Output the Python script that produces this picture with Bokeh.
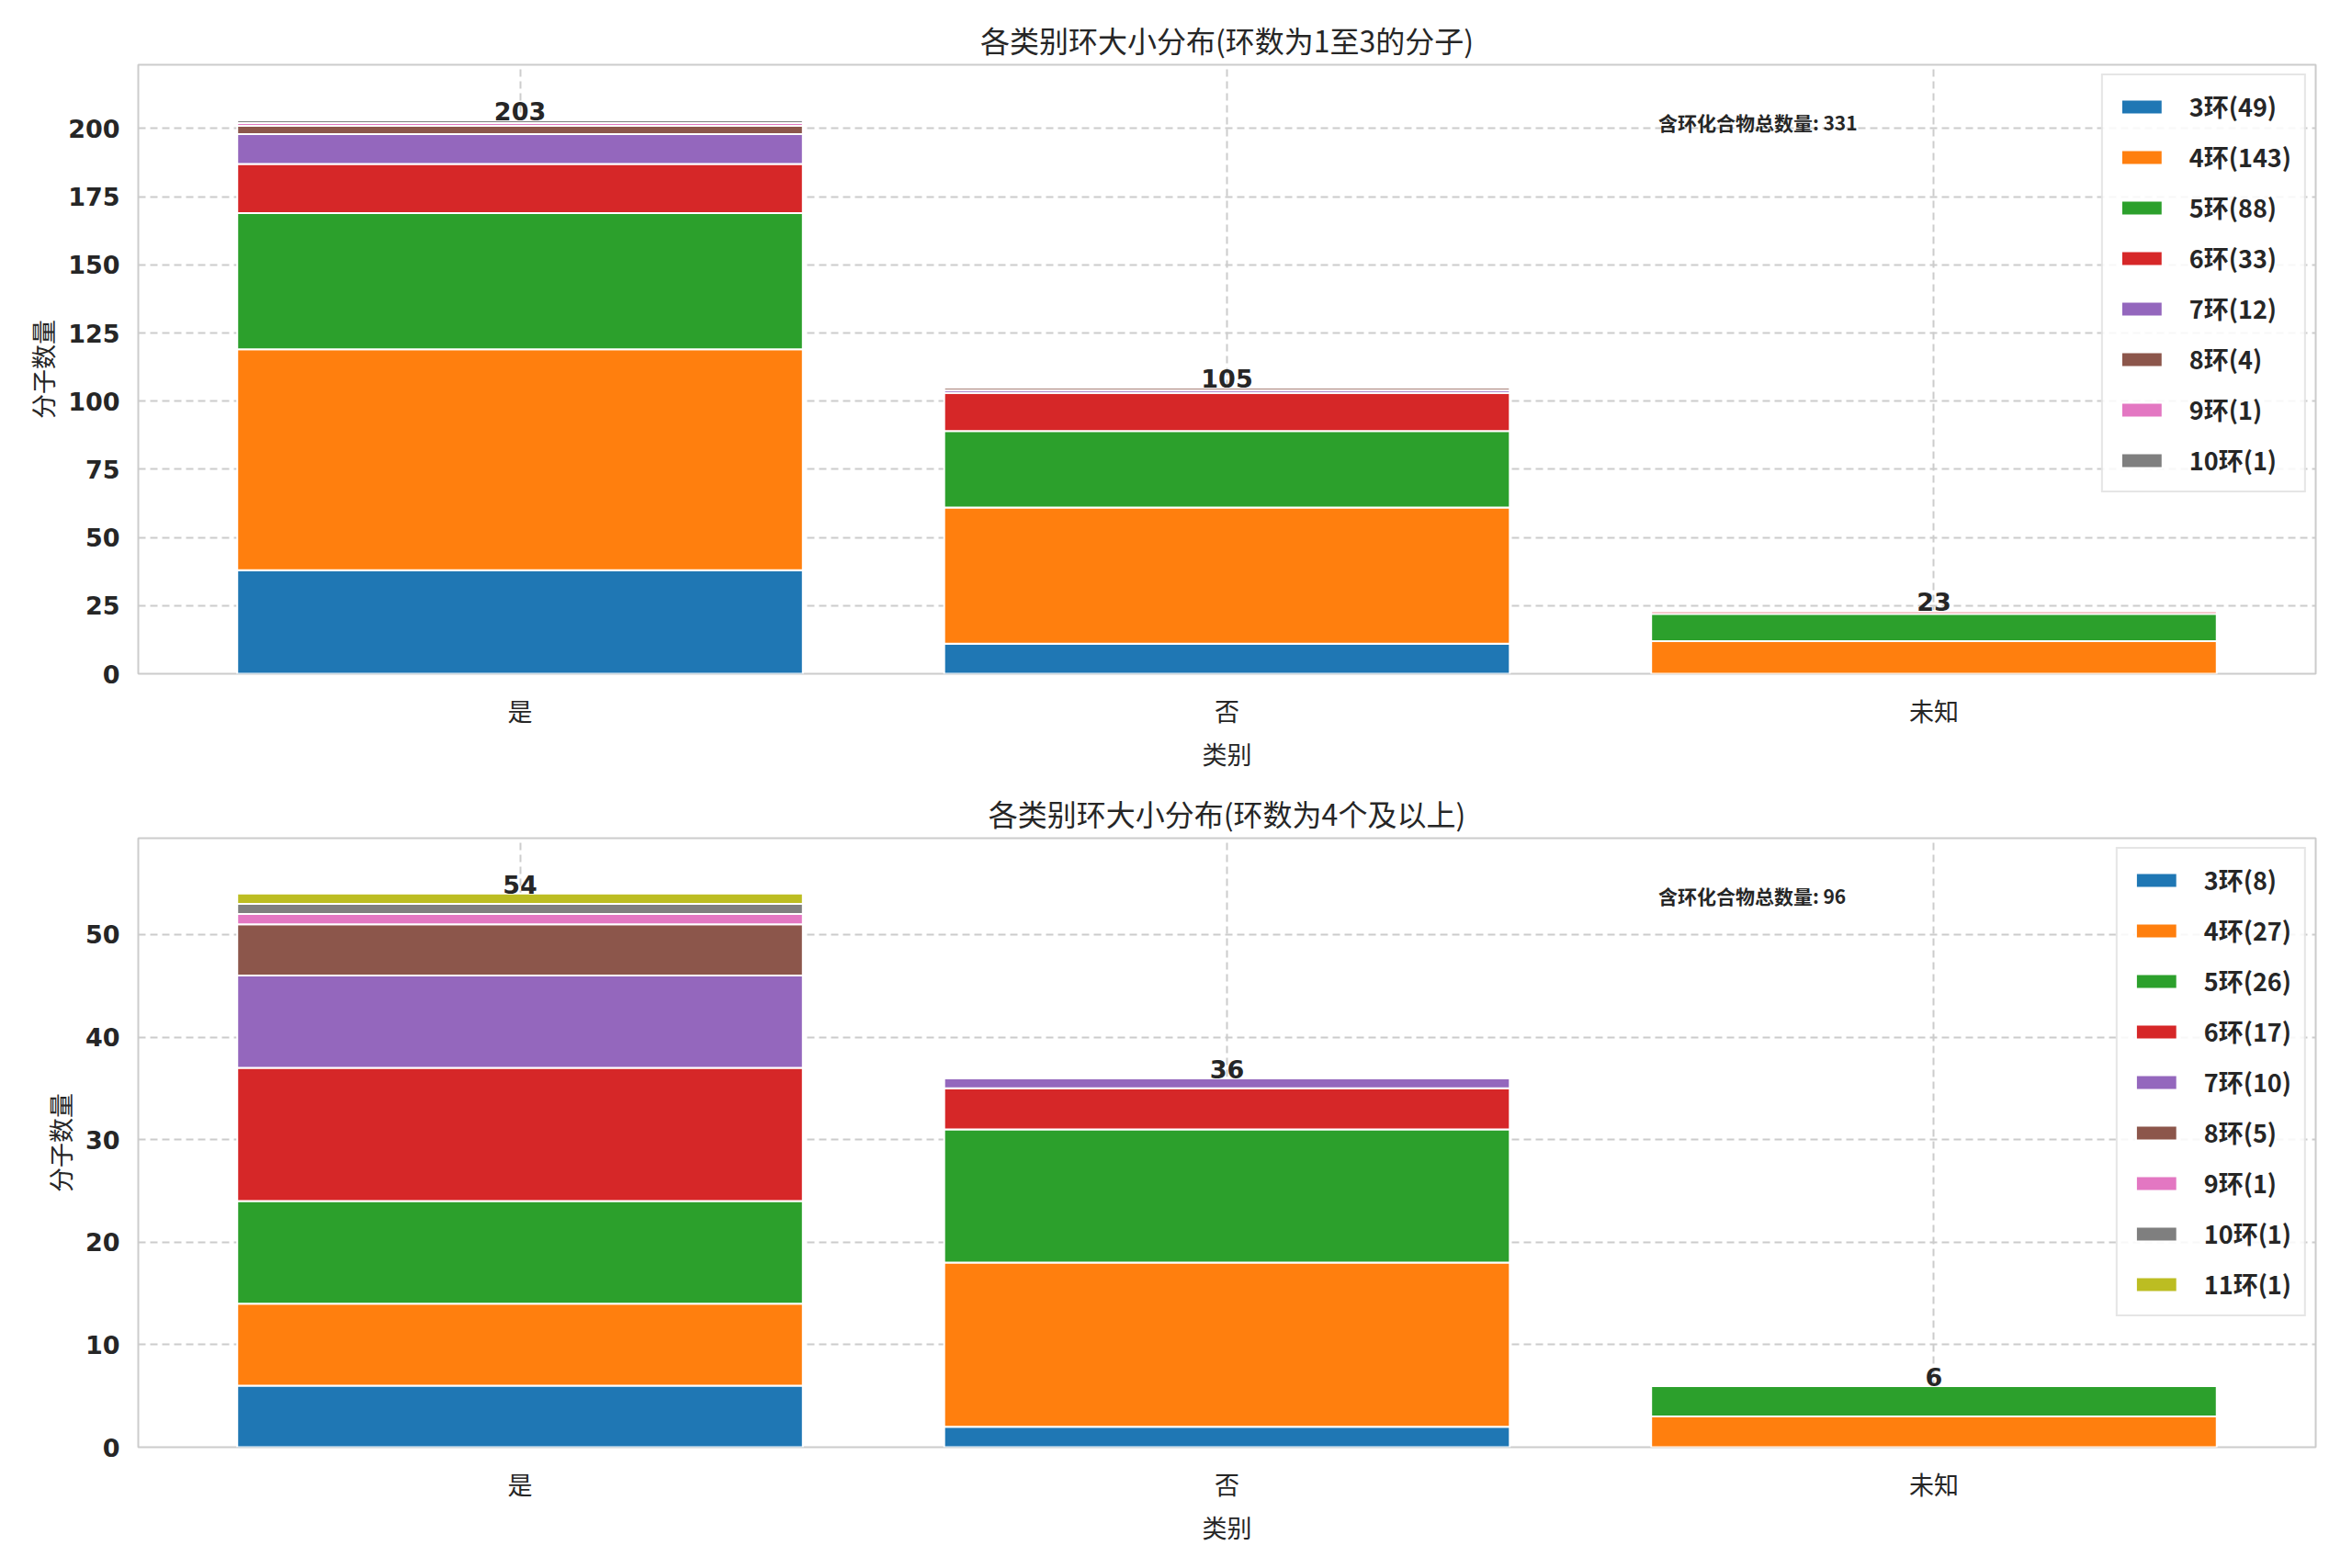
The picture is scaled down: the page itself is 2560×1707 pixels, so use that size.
from bokeh.plotting import figure
from bokeh.layouts import column
from bokeh.models import Range1d, FixedTicker, Legend
from bokeh.embed import file_html
from bokeh.resources import INLINE
from bokeh.core.properties import value

categories = ["是", "否", "未知"]
colors = ["#1f77b4", "#ff7f0e", "#2ca02c", "#d62728", "#9467bd", "#8c564b", "#e377c2", "#7f7f7f", "#bcbd22"]

top_rings = ["3环", "4环", "5环", "6环", "7环", "8环", "9环", "10环"]
top_vals = {
    "3环": [38, 11, 0], "4环": [81, 50, 12], "5环": [50, 28, 10], "6环": [18, 14, 1],
    "7环": [11, 1, 0], "8环": [3, 1, 0], "9环": [1, 0, 0], "10环": [1, 0, 0],
}
bot_rings = ["3环", "4环", "5环", "6环", "7环", "8环", "9环", "10环", "11环"]
bot_vals = {
    "3环": [6, 2, 0], "4环": [8, 16, 3], "5环": [10, 13, 3], "6环": [13, 4, 0],
    "7环": [9, 1, 0], "8环": [5, 0, 0], "9环": [1, 0, 0], "10环": [1, 0, 0], "11环": [1, 0, 0],
}
titles = ["各类别环大小分布(环数为1至3的分子)", "各类别环大小分布(环数为4个及以上)"]
total_labels = ["含环化合物总数量: 331", "含环化合物总数量: 96"]
ymaxes = [223.4, 59.4]
yticks = [[0, 25, 50, 75, 100, 125, 150, 175, 200], [0, 10, 20, 30, 40, 50]]

CJK = "Noto Sans CJK SC"
NUM = "DejaVu Sans"

def make(rings, vals, title, tot_label, ymax, ticks):
    p = figure(width=2540, height=842, output_backend="svg", toolbar_location=None,
               x_range=Range1d(-0.54, 2.54), y_range=Range1d(0, ymax),
               min_border_left=150, min_border_right=20, min_border_top=70, min_border_bottom=80)
    p.title.text = title
    p.title.align = "center"
    p.title.text_font = CJK
    p.title.text_font_style = "normal"
    p.title.text_font_size = "32px"
    p.title.text_color = "#262626"
    p.outline_line_color = "#cccccc"
    p.outline_line_width = 2
    xs = [0, 1, 2]
    data = {"x": xs}
    for r in rings:
        data[r] = vals[r]
    rs = p.vbar_stack(rings, x="x", width=0.8, source=data, color=colors[:len(rings)],
                      line_color="white", line_width=2)
    totals = [sum(vals[r][i] for r in rings) for i in range(3)]
    p.text(x=xs, y=totals, text=[str(t) for t in totals], text_align="center", text_baseline="bottom",
           text_font=value(NUM), text_font_style="bold", text_font_size="27px", text_color="#262626")
    p.text(x=[1.61], y=[ymax * 0.905], text=[tot_label], text_align="left", text_baseline="middle",
           text_font=value(CJK), text_font_style="bold", text_font_size="21px", text_color="#262626")
    items = []
    for r, g in zip(rings, rs):
        items.append((f"{r}({sum(vals[r])})", [g]))
    leg = Legend(items=items, location="top_right")
    leg.label_text_font = CJK
    leg.label_text_font_style = "bold"
    leg.label_text_font_size = "27px"
    leg.label_text_color = "#262626"
    leg.glyph_width = 56
    leg.glyph_height = 20
    leg.spacing = 16
    leg.label_standoff = 24
    leg.padding = 14
    leg.border_line_color = "#cccccc"
    leg.border_line_width = 2
    leg.background_fill_alpha = 0.85
    p.add_layout(leg)
    for ax in (p.xaxis[0], p.yaxis[0]):
        ax.axis_line_color = None
        ax.major_tick_line_color = None
        ax.minor_tick_line_color = None
        ax.major_label_text_font_size = "27px"
        ax.major_label_text_color = "#262626"
        ax.axis_label_text_font = CJK
        ax.axis_label_text_font_size = "27px"
        ax.axis_label_text_font_style = "normal"
        ax.axis_label_text_color = "#262626"
    p.xaxis.ticker = FixedTicker(ticks=xs)
    p.xaxis.major_label_overrides = {0: categories[0], 1: categories[1], 2: categories[2]}
    p.xaxis.major_label_text_font = CJK
    p.xaxis.axis_label = "类别"
    p.yaxis.ticker = FixedTicker(ticks=ticks)
    p.yaxis.major_label_text_font = NUM
    p.yaxis.major_label_text_font_style = "bold"
    p.yaxis.axis_label = "分子数量"
    p.xaxis.major_label_standoff = 14
    p.yaxis.major_label_standoff = 14
    p.xgrid.ticker = FixedTicker(ticks=xs)
    for gr in (p.xgrid[0], p.ygrid[0]):
        gr.grid_line_color = "#cccccc"
        gr.grid_line_dash = "8 5"
        gr.grid_line_width = 2
    return p

p1 = make(top_rings, top_vals, titles[0], total_labels[0], ymaxes[0], yticks[0])
p2 = make(bot_rings, bot_vals, titles[1], total_labels[1], ymaxes[1], yticks[1])
layout = column(p1, p2, spacing=0)
open("out.html", "w").write(file_html(layout, INLINE))
